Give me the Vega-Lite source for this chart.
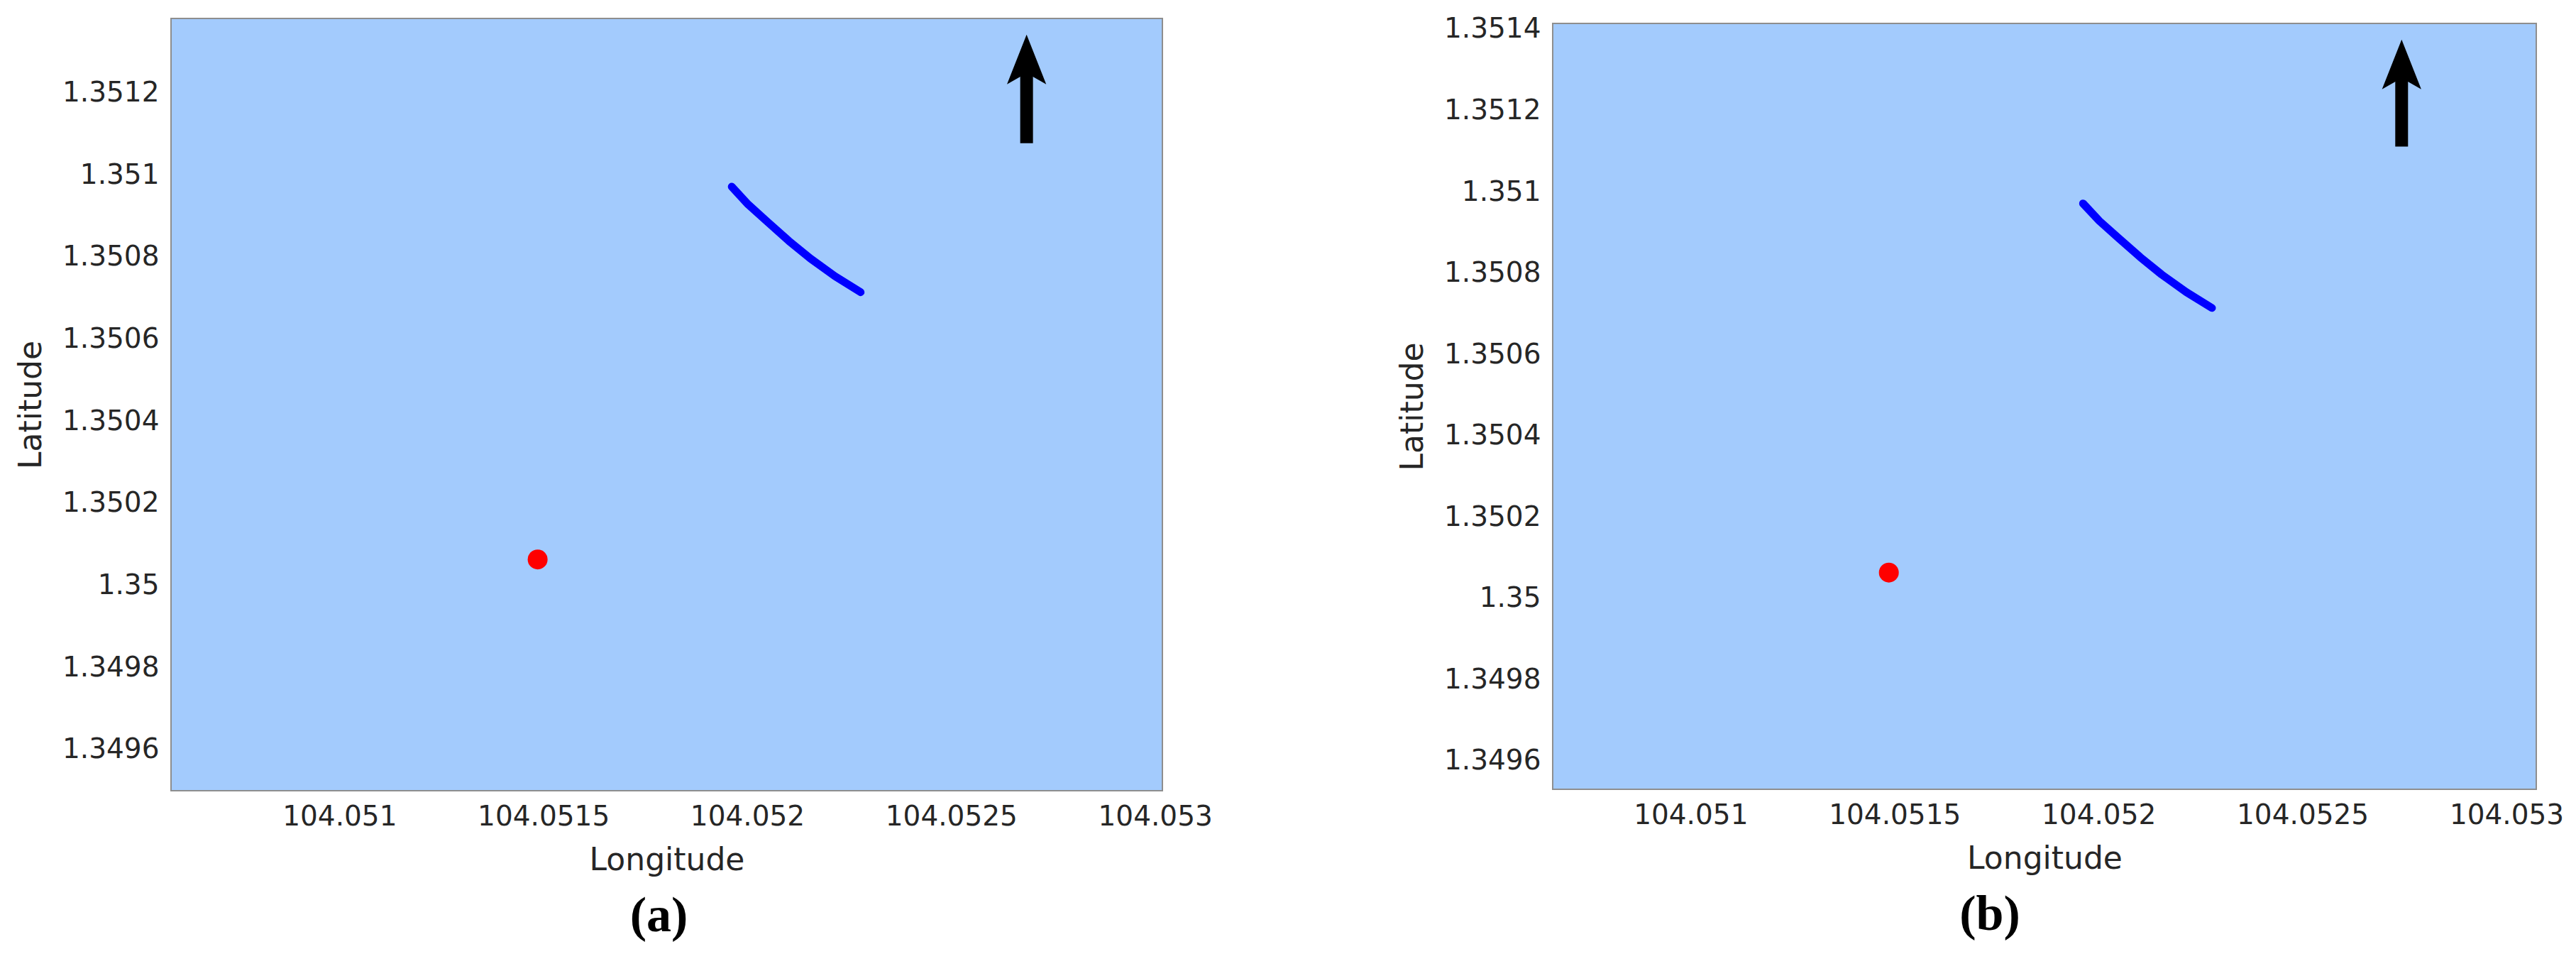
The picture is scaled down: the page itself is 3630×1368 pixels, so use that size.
{
  "$schema": "https://vega.github.io/schema/vega-lite/v6.json",
  "background": "white",
  "padding": {"left": 21, "top": 20, "right": 0, "bottom": 0},
  "spacing": 258,
  "datasets": {
    "track": [
      {"i": 0, "lon": 104.051962, "lat": 1.350971},
      {"i": 1, "lon": 104.052002, "lat": 1.350928},
      {"i": 2, "lon": 104.052049, "lat": 1.350886},
      {"i": 3, "lon": 104.052102, "lat": 1.350839},
      {"i": 4, "lon": 104.052155, "lat": 1.350796},
      {"i": 5, "lon": 104.052215, "lat": 1.350753},
      {"i": 6, "lon": 104.052278, "lat": 1.350714}
    ],
    "home": [
      {"lon": 104.051486, "lat": 1.350063}
    ],
    "arrowA": [
      {"lon": 104.052685, "lat": 1.351281, "lat2": 1.351077}
    ],
    "arrowB": [
      {"lon": 104.052743, "lat": 1.351313, "lat2": 1.351111}
    ],
    "none": []
  },
  "config": {
    "view": {"fill": "#a3cbfd", "stroke": "#8e8e8e", "strokeWidth": 2},
    "axis": {
      "ticks": false,
      "tickSize": 0,
      "domain": false,
      "grid": false,
      "labelFont": "DejaVu Sans",
      "labelFontSize": 39,
      "labelColor": "#262626",
      "labelPadding": 17,
      "labelLimit": 600,
      "titleFont": "DejaVu Sans",
      "titleFontSize": 44,
      "titleFontWeight": "normal",
      "titleColor": "#262626",
      "labelOverlap": false
    },
    "axisX": {"titlePadding": 20},
    "axisY": {"titlePadding": 21}
  },
  "hconcat": [
    {
      "width": 1397,
      "height": 1088,
      "title": {"text": "(a)", "orient": "bottom", "anchor": "middle", "frame": "group", "font": "Liberation Serif", "fontSize": 70, "fontWeight": "bold", "color": "black", "offset": 23, "dx": -11, "baseline": "top"},
      "encoding": {
        "x": {"field": "lon", "type": "quantitative", "title": "Longitude",
          "scale": {"domain": [104.050587, 104.053018], "nice": false, "zero": false},
          "axis": {"values": [104.051, 104.0515, 104.052, 104.0525, 104.053], "format": ".7~g"}},
        "y": {"field": "lat", "type": "quantitative", "title": "Latitude",
          "scale": {"domain": [1.3494995, 1.351381], "nice": false, "zero": false},
          "axis": {"values": [1.3496, 1.3498, 1.35, 1.3502, 1.3504, 1.3506, 1.3508, 1.351, 1.3512], "format": ".7~g"}}
      },
      "layer": [
        {"data": {"name": "track"}, "mark": {"type": "line", "color": "#0000ff", "strokeWidth": 11, "strokeCap": "round", "strokeJoin": "round"},
          "encoding": {"order": {"field": "i", "type": "quantitative"}}},
        {"data": {"name": "home"}, "mark": {"type": "point", "shape": "circle", "filled": true, "color": "#ff0000", "size": 784, "opacity": 1}},
        {"data": {"name": "arrowA"}, "mark": {"type": "rule", "color": "black", "strokeWidth": 18, "strokeCap": "butt"},
          "encoding": {"y2": {"field": "lat2"}}},
        {"data": {"name": "arrowA"}, "mark": {"type": "point", "shape": "M0,-1L0.79,1L0,0.55L-0.79,1Z", "filled": true, "color": "black", "size": 4900, "opacity": 1, "strokeWidth": 0}}
      ]
    },
    {
      "bounds": "flush",
      "spacing": 0,
      "vconcat": [
        {
          "width": 1386,
          "height": 7,
          "view": {"stroke": null, "fill": null},
          "data": {"name": "none"},
          "mark": {"type": "rule"},
          "encoding": {}
        },
        {
          "width": 1386,
          "height": 1079,
          "title": {"text": "(b)", "orient": "bottom", "anchor": "middle", "frame": "group", "font": "Liberation Serif", "fontSize": 70, "fontWeight": "bold", "color": "black", "offset": 23, "dx": -77, "baseline": "top"},
          "encoding": {
            "x": {"field": "lon", "type": "quantitative", "title": "Longitude",
              "scale": {"domain": [104.050662, 104.053073], "nice": false, "zero": false},
              "axis": {"values": [104.051, 104.0515, 104.052, 104.0525, 104.053], "format": ".7~g"}},
            "y": {"field": "lat", "type": "quantitative", "title": "Latitude",
              "scale": {"domain": [1.34953, 1.3514138], "nice": false, "zero": false},
              "axis": {"values": [1.3496, 1.3498, 1.35, 1.3502, 1.3504, 1.3506, 1.3508, 1.351, 1.3512, 1.3514], "format": ".7~g"}}
          },
          "layer": [
            {"data": {"name": "track"}, "mark": {"type": "line", "color": "#0000ff", "strokeWidth": 11, "strokeCap": "round", "strokeJoin": "round"},
              "encoding": {"order": {"field": "i", "type": "quantitative"}}},
            {"data": {"name": "home"}, "mark": {"type": "point", "shape": "circle", "filled": true, "color": "#ff0000", "size": 784, "opacity": 1}},
            {"data": {"name": "arrowB"}, "mark": {"type": "rule", "color": "black", "strokeWidth": 18, "strokeCap": "butt"},
              "encoding": {"y2": {"field": "lat2"}}},
            {"data": {"name": "arrowB"}, "mark": {"type": "point", "shape": "M0,-1L0.79,1L0,0.55L-0.79,1Z", "filled": true, "color": "black", "size": 4900, "opacity": 1, "strokeWidth": 0}}
          ]
        }
      ]
    }
  ]
}
